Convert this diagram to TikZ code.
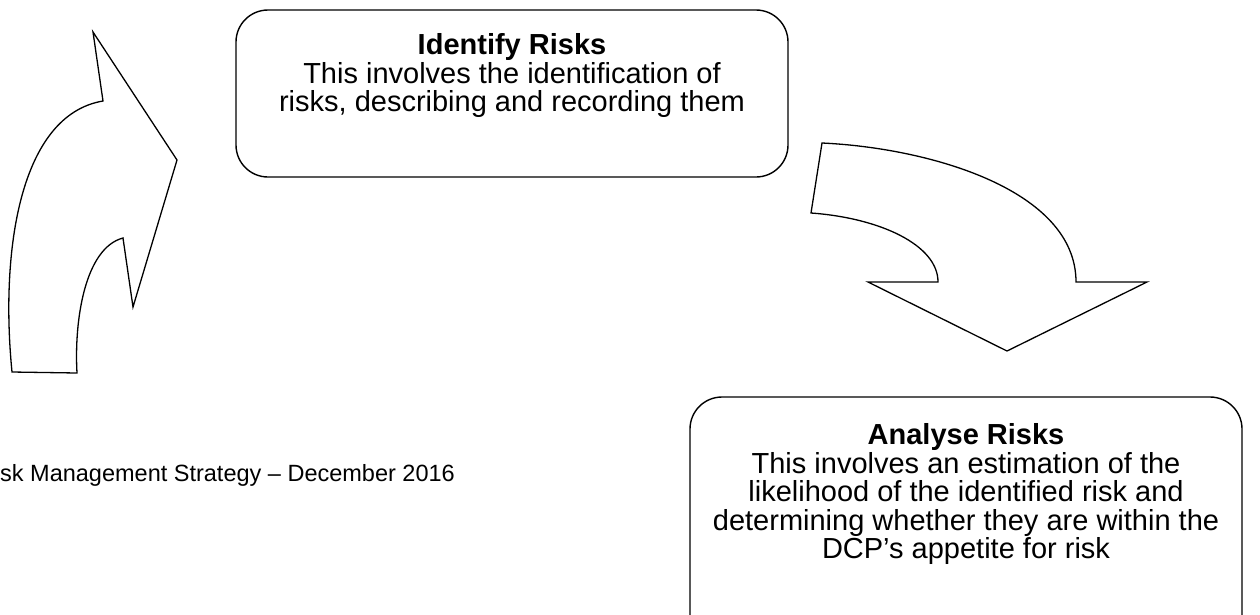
\documentclass[tikz,border=0pt]{standalone}
\usepackage{fontspec}
\setmainfont{Liberation Sans}
\usetikzlibrary{positioning}

\begin{document}
\begin{tikzpicture}[x=1pt, y=-1pt,
    stage/.style={draw, line width=1.4pt, rounded corners=32pt, minimum width=552pt, inner sep=0pt},
    stagetext/.style={align=center, inner sep=0pt, font=\fontsize{29}{28.5}\selectfont},
    bigarrow/.style={draw, fill=white, line width=1.3pt, line join=miter}]
    \useasboundingbox (0,0) rectangle (1260,614);
    \clip (0,0) rectangle (1260,614);

    \node[stage, minimum height=167pt] (identify) at (512,93.5) {};
    \node[stagetext, below=24pt of identify.north] (identifytext)
        {\textbf{Identify Risks}\\This involves the identification of\\risks, describing and recording them};

    \node[stage, minimum height=260pt] (analyse) at (966,527) {};
    \node[stagetext, below=27pt of analyse.north] (analysetext)
        {\textbf{Analyse Risks}\\This involves an estimation of the\\likelihood of the identified risk and\\determining whether they are within the\\DCP’s appetite for risk};

    \node[anchor=base west, inner sep=0pt, font=\fontsize{23.5}{28}\selectfont] (footer) at (0,481)
        {sk Management Strategy – December 2016};

    % curved arrow, left
    \path[bigarrow] (12,372) .. controls (0,250) and (20,115) .. (103,101)
        -- (93,32) -- (177,160) -- (133,307) -- (123,238)
        .. controls (85,248) and (74,320) .. (77,373) -- cycle;

    % curved arrow, right
    \path[bigarrow] (822,143) -- (811,213)
        .. controls (880,218) and (938,245) .. (938,282)
        -- (868,282) -- (1007,351) -- (1147,282) -- (1076,282)
        .. controls (1076,190) and (930,148) .. (822,143) -- cycle;
\end{tikzpicture}
\end{document}
